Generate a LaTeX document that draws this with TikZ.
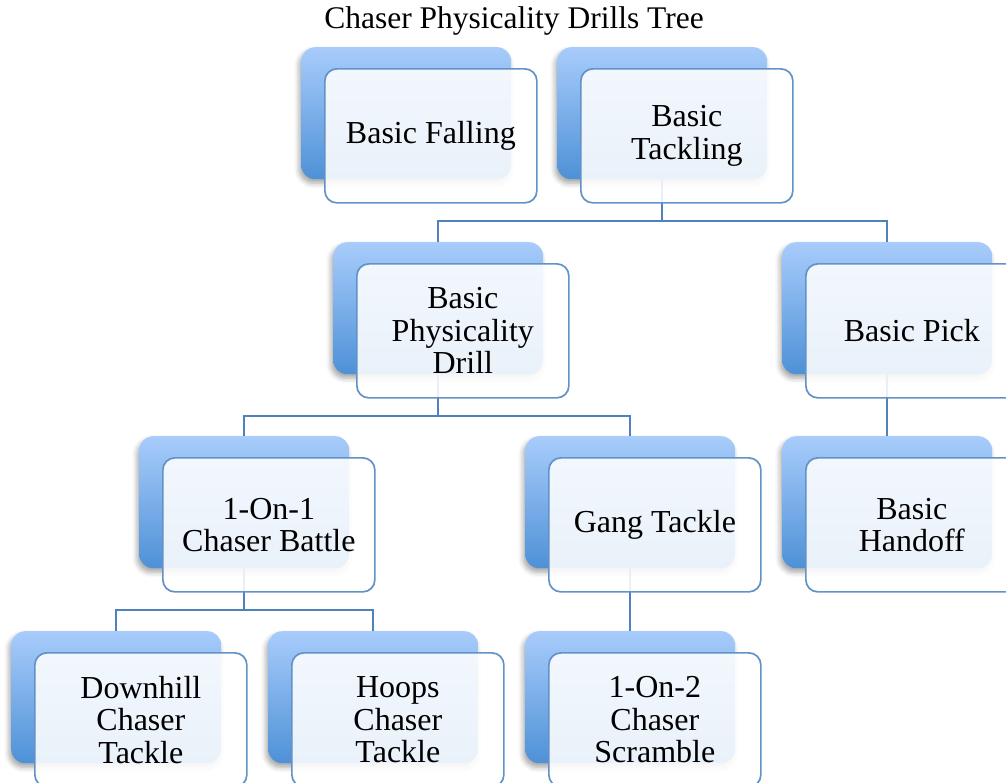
\documentclass[tikz,border=0pt]{standalone}
\usepackage{fontspec}
\setmainfont{Liberation Serif}
\usetikzlibrary{shadows.blur}
\definecolor{linkblue}{RGB}{79,129,189}
\definecolor{frameblue}{RGB}{98,146,200}
\definecolor{gradtop}{RGB}{168,204,251}
\definecolor{gradbot}{RGB}{78,145,215}
\tikzset{
  backbox/.style={rectangle, rounded corners=14pt, minimum width=210pt,
    minimum height=132pt, anchor=north west, inner sep=0pt,
    top color=gradtop, bottom color=gradbot, draw=none,
    blur shadow={shadow xshift=-2pt, shadow yshift=-4pt,
      shadow blur radius=5pt, shadow opacity=35}},
  frontbox/.style={rectangle, rounded corners=12pt, minimum width=212pt,
    minimum height=134pt, anchor=north west, xshift=23pt, yshift=-21pt,
    draw=frameblue, line width=1.7pt, fill=white, fill opacity=0.88,
    text opacity=1, align=center, inner sep=0pt,
    font=\fontsize{32}{32.5}\selectfont},
  link/.style={draw=linkblue, line width=1.9pt},
}
\begin{document}
\begin{tikzpicture}[x=1pt,y=-1pt]
\useasboundingbox (0,0) rectangle (1006,782);
\node[font=\fontsize{31.5}{33}\selectfont] (title) at (514,21) {Chaser Physicality Drills Tree};

% coloured back panels
\node[backbox] (fallB) at (301,47) {};
\node[backbox] (tackB) at (557,47) {};
\node[backbox] (physB) at (333,242) {};
\node[backbox] (pickB) at (782,242) {};
\node[backbox] (oneB)  at (139,436) {};
\node[backbox] (gangB) at (525,436) {};
\node[backbox] (handB) at (782,436) {};
\node[backbox] (downB) at (11,631) {};
\node[backbox] (hoopB) at (268,631) {};
\node[backbox] (scrB)  at (525,631) {};

% elbow connectors between the panels
\draw[link] (tackB.south) -- ++(0,42) -| (physB.north);
\draw[link] (tackB.south) -- ++(0,42) -| (pickB.north);
\draw[link] (physB.south) -- ++(0,42) -| (oneB.north);
\draw[link] (physB.south) -- ++(0,42) -| (gangB.north);
\draw[link] (pickB.south) -- (handB.north);
\draw[link] (oneB.south) -- ++(0,42) -| (downB.north);
\draw[link] (oneB.south) -- ++(0,42) -| (hoopB.north);
\draw[link] (gangB.south) -- (scrB.north);

% translucent text cards
\node[frontbox] (fall) at (fallB.north west) {Basic Falling};
\node[frontbox] (tack) at (tackB.north west) {Basic\\Tackling};
\node[frontbox] (phys) at (physB.north west) {Basic\\Physicality\\Drill};
\node[frontbox] (pick) at (pickB.north west) {Basic Pick};
\node[frontbox] (one)  at (oneB.north west) {1-On-1\\Chaser Battle};
\node[frontbox] (gang) at (gangB.north west) {Gang Tackle};
\node[frontbox] (hand) at (handB.north west) {Basic\\Handoff};
\node[frontbox] (down) at (downB.north west) {Downhill\\Chaser\\Tackle};
\node[frontbox] (hoop) at (hoopB.north west) {Hoops\\Chaser\\Tackle};
\node[frontbox] (scr)  at (scrB.north west) {1-On-2\\Chaser\\Scramble};
\end{tikzpicture}
\end{document}
